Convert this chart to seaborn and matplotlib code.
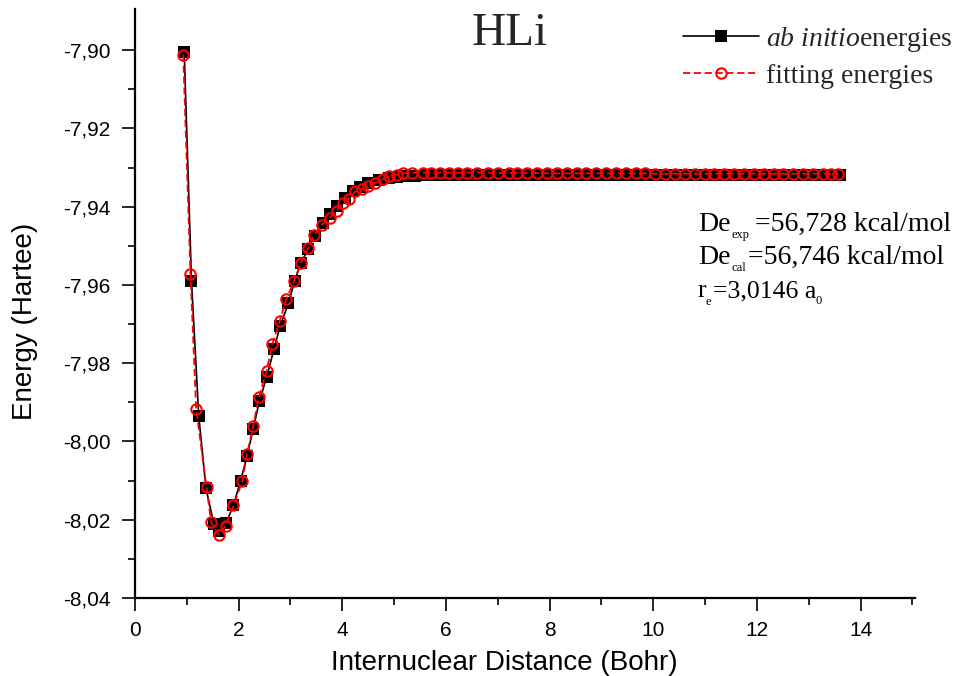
import matplotlib
matplotlib.use("Agg")
import matplotlib.pyplot as plt
import seaborn as sns
import pandas as pd
from matplotlib.ticker import FixedLocator, FixedFormatter
from matplotlib.lines import Line2D

# ---------------- data ----------------
abinitio_r = [0.95, 1.09, 1.23, 1.37, 1.52, 1.62, 1.76, 1.90, 2.04, 2.16, 2.28, 2.40,
              2.54, 2.68, 2.80, 2.96, 3.08, 3.20, 3.34, 3.47, 3.62, 3.76, 3.90, 4.05,
              4.21, 4.35, 4.50, 4.70, 4.90, 5.05,
              5.2, 5.4, 5.6, 5.8, 6.0, 6.2, 6.4, 6.6, 6.8, 7.0, 7.2, 7.4, 7.6, 7.8,
              8.0, 8.2, 8.4, 8.6, 8.8, 9.0, 9.2, 9.4, 9.6, 9.8, 10.0, 10.2, 10.4,
              10.6, 10.8, 11.0, 11.2, 11.4, 11.6, 11.8, 12.0, 12.2, 12.4, 12.6,
              12.8, 13.0, 13.2, 13.4, 13.6]
abinitio_E = [-7.9005, -7.9590, -7.9935, -8.0120, -8.0210, -8.0228, -8.0208, -8.0162,
              -8.0100, -8.0038, -7.9968, -7.9897, -7.9836, -7.9765, -7.9705, -7.9647,
              -7.9590, -7.9545, -7.9508, -7.9475, -7.9443, -7.9418, -7.9398, -7.9378,
              -7.9360, -7.9349, -7.9340, -7.9333, -7.9328, -7.9325,
              -7.9322, -7.9321, -7.9320, -7.9320, -7.9320, -7.9320, -7.9320, -7.9320,
              -7.9320, -7.9320, -7.9320, -7.9320, -7.9320, -7.9320, -7.9320, -7.9320,
              -7.9320, -7.9320, -7.9320, -7.9320, -7.9320, -7.9320, -7.9320, -7.9320,
              -7.9320, -7.9320, -7.9320, -7.9320, -7.9320, -7.9320, -7.9320, -7.9320,
              -7.9320, -7.9320, -7.9320, -7.9320, -7.9320, -7.9320, -7.9320, -7.9320,
              -7.9320, -7.9320, -7.9320]

fit_r = [0.93, 1.07, 1.18, 1.38, 1.47, 1.62, 1.75, 1.90, 2.07, 2.16, 2.28, 2.39,
         2.54, 2.65, 2.79, 2.92, 3.07, 3.20, 3.34, 3.45, 3.61, 3.76, 3.89, 4.02,
         4.12, 4.25, 4.38, 4.50, 4.63, 4.78, 4.91, 5.05, 5.18, 5.34, 5.55, 5.72,
         5.88, 6.05, 6.24, 6.40, 6.60, 6.82, 7.01, 7.21, 7.37, 7.56, 7.75, 7.95,
         8.14, 8.33, 8.52, 8.71, 8.90, 9.09, 9.28, 9.47, 9.66, 9.85, 10.04, 10.23,
         10.42, 10.61, 10.80, 10.99, 11.18, 11.37, 11.56, 11.75, 11.94, 12.13,
         12.32, 12.51, 12.70, 12.89, 13.08, 13.27, 13.42, 13.57]
fit_E = [-7.9012, -7.9571, -7.9917, -8.0117, -8.0207, -8.0239, -8.0215, -8.0163,
         -8.0102, -8.0033, -7.9961, -7.9887, -7.9819, -7.9751, -7.9693, -7.9637,
         -7.9590, -7.9543, -7.9506, -7.9473, -7.9446, -7.9428, -7.9410, -7.9390,
         -7.9380, -7.9361, -7.9355, -7.9348, -7.9339, -7.9330, -7.9322, -7.9318,
         -7.9315, -7.9313, -7.9313, -7.9313, -7.9313, -7.9313, -7.9313, -7.9313,
         -7.9313, -7.9313, -7.9314, -7.9314, -7.9314, -7.9314, -7.9314, -7.9315,
         -7.9315, -7.9315, -7.9315, -7.9315, -7.9315, -7.9315, -7.9315, -7.9315,
         -7.9315, -7.9315, -7.9316, -7.9316, -7.9316, -7.9316, -7.9316, -7.9316,
         -7.9316, -7.9316, -7.9316, -7.9316, -7.9316, -7.9316, -7.9316, -7.9316,
         -7.9316, -7.9316, -7.9316, -7.9316, -7.9316, -7.9316]

x_ticks = [0, 2, 4, 6, 8, 10, 12, 14]
x_tick_labels = ["0", "2", "4", "6", "8", "10", "12", "14"]
x_minor = [1, 3, 5, 7, 9, 11, 13, 15]
y_ticks = [-8.04, -8.02, -8.00, -7.98, -7.96, -7.94, -7.92, -7.90]
y_tick_labels = ["-8,04", "-8,02", "-8,00", "-7,98", "-7,96", "-7,94", "-7,92", "-7,90"]
y_minor = [-8.03, -8.01, -7.99, -7.97, -7.95, -7.93, -7.91]

title_text = "HLi"
legend_labels = [r"$\mathit{ab\ initio}$energies", "fitting energies"]

# ---------------- style ----------------
sns.set_theme(style="ticks")
plt.rcParams["font.family"] = ["Liberation Sans", "DejaVu Sans"]
plt.rcParams["mathtext.fontset"] = "custom"
plt.rcParams["mathtext.rm"] = "Liberation Serif"
plt.rcParams["mathtext.it"] = "Liberation Serif:italic"
plt.rcParams["axes.unicode_minus"] = False

W, H = 968, 676
fig = plt.figure(figsize=(W / 100, H / 100), dpi=100)
ax = fig.add_axes([135 / W, 1 - 598 / H, 780 / W, 589 / H])

df_ab = pd.DataFrame({"r": abinitio_r, "E": abinitio_E})
df_fit = pd.DataFrame({"r": fit_r, "E": fit_E})

sns.lineplot(data=df_ab, x="r", y="E", ax=ax, sort=False, color="black",
             linewidth=1.2, marker="s", markersize=8, markeredgewidth=0,
             markerfacecolor="black", legend=False, zorder=2)
sns.lineplot(data=df_fit, x="r", y="E", ax=ax, sort=False, color="red",
             linewidth=1.3, linestyle=(0, (4, 2)), marker="o", markersize=7.5,
             markerfacecolor="none", markeredgecolor="red", markeredgewidth=1.5,
             legend=False, zorder=3)

ax.set_xlim(0, 15.05)
ax.set_ylim(-8.04, -7.8895)
ax.xaxis.set_major_locator(FixedLocator(x_ticks))
ax.xaxis.set_major_formatter(FixedFormatter(x_tick_labels))
ax.xaxis.set_minor_locator(FixedLocator(x_minor))
ax.yaxis.set_major_locator(FixedLocator(y_ticks))
ax.yaxis.set_major_formatter(FixedFormatter(y_tick_labels))
ax.yaxis.set_minor_locator(FixedLocator(y_minor))

for s in ["top", "right"]:
    ax.spines[s].set_visible(False)
for s in ["left", "bottom"]:
    ax.spines[s].set_linewidth(1.6)
    ax.spines[s].set_color("black")

ax.tick_params(axis="both", which="major", direction="out", length=9.5, width=1.2,
               color="black", labelsize=15, labelcolor="black")
ax.tick_params(axis="both", which="minor", direction="out", length=5, width=1.2,
               color="black")
ax.tick_params(axis="y", which="major", pad=8)
ax.tick_params(axis="x", which="major", pad=7)
ax.grid(False)

ax.set_xlabel("Internuclear Distance (Bohr)", fontsize=20, color="black")
ax.set_ylabel("Energy (Hartee)", fontsize=20, color="black")
ax.xaxis.set_label_coords(0.474, -0.088)
ax.yaxis.set_label_coords(-0.124, 0.47)

# title
fig.text(510 / W, 1 - 45 / H, title_text, ha="center", va="baseline",
         fontsize=34, family="Liberation Serif")

# legend
handles = [
    Line2D([], [], color="black", linewidth=1.2, marker="s", markersize=8,
           markeredgewidth=0, markerfacecolor="black"),
    Line2D([], [], color="red", linewidth=1.3, linestyle=(0, (4, 2)), marker="o",
           markersize=7.5, markerfacecolor="none", markeredgecolor="red",
           markeredgewidth=1.5),
]
leg = ax.legend(handles, legend_labels, loc="upper left",
                bbox_to_anchor=(683 / W, 1 - 25 / H), bbox_transform=fig.transFigure,
                frameon=False, borderpad=0, borderaxespad=0, handlelength=2.75,
                handletextpad=0.25, labelspacing=0.33, numpoints=1,
                prop={"family": "Liberation Serif", "size": 20})

# annotation with small subscripts
serif = "Liberation Serif"
big = 20
mid = 18.5
small = 9

def ftext(px, py, s, size):
    fig.text(px / W, 1 - py / H, s, ha="left", va="baseline", fontsize=size,
             family=serif, color="black")

ftext(698, 231, "De", big)
ftext(731, 238, "exp", small)
ftext(755, 231, "=56,728 kcal/mol", big)
ftext(698, 264, "De", big)
ftext(731, 271, "cal", small)
ftext(748, 264, "=56,746 kcal/mol", big)
ftext(698, 297, "r", mid)
ftext(706, 305, "e", small)
ftext(713, 297, "=3,0146 a", mid)
ftext(815, 304, "0", small)

fig.savefig("out.png", dpi=100)
